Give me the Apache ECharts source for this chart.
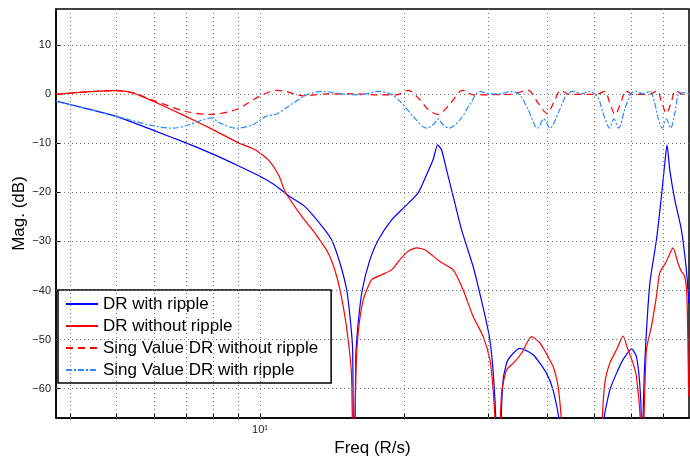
<!DOCTYPE html>
<html>
<head>
<meta charset="utf-8">
<script src="https://cdn.jsdelivr.net/npm/echarts@6/dist/echarts.min.js"></script>
<style>
html, body { margin: 0; padding: 0; background: #fff; }
#main { width: 690px; height: 461px; }
</style>
</head>
<body>
<div id="main"></div>
<script>
// grid positions (MATLAB style log grid)
var freqTicks = [4, 5, 6, 7, 8, 9, 10, 20, 30, 40, 50, 60, 70];
var magTicks = [-60, -50, -40, -30, -20, -10, 0, 10];

var legendNames = ['DR with ripple', 'DR without ripple', 'Sing Value DR without ripple', 'Sing Value DR with ripple'];

// DR with ripple
var drRipFreq = [3.74, 4.33, 5.0, 6.0, 7.0, 7.97, 9.02, 10.0, 10.66, 11.28, 11.65, 12.42, 13.46, 14.13, 14.70, 15.19, 15.48, 15.63, 15.73, 15.87, 16.05, 16.37, 16.99, 17.68, 18.86, 20.10, 21.44, 22.32, 23.04, 23.54, 23.99, 24.58, 25.38, 26.42, 27.94, 28.40, 29.57, 30.29, 30.86, 31.27, 31.55, 31.89, 32.28, 33.07, 34.99, 37.31, 39.80, 41.08, 42.29, 42.6, 52.0, 52.45, 54.0, 55.76, 57.55, 60.0, 61.39, 62.37, 62.89, 63.1, 63.39, 63.91, 65.5, 67.61, 69.25, 70.4, 71.15, 72.1, 73.86, 76.24, 78.10, 79.08];
var drRipMag = [-1.4, -2.9, -4.5, -7.4, -9.9, -12.2, -14.6, -16.7, -18.3, -20.1, -21.1, -22.9, -26.8, -29.7, -34.4, -39.9, -46.7, -52.1, -85, -53.5, -46.7, -39.9, -33.7, -29.7, -25.6, -22.9, -20.1, -16.4, -13.3, -10.3, -11.3, -15.4, -20.8, -27.6, -35.1, -37.8, -45.0, -50.1, -58.2, -70, -90, -70, -58.2, -54.1, -51.8, -53.1, -56.9, -60.3, -66.5, -80, -80, -66.5, -60.3, -56.9, -54.1, -51.9, -53.5, -58.9, -66.5, -85, -66.5, -54.8, -38.5, -29.7, -20.8, -14.0, -10.3, -15.4, -21.5, -27.6, -35.8, -42.6];

// DR without ripple
var drFreq = [3.74, 4.33, 5.0, 5.42, 5.97, 7.0, 7.97, 9.02, 9.81, 10.46, 10.97, 11.28, 12.23, 13.03, 13.90, 14.47, 14.94, 15.30, 15.55, 15.70, 15.87, 16.05, 16.45, 17.13, 17.97, 18.86, 19.63, 20.43, 21.28, 22.14, 23.80, 25.38, 26.63, 27.94, 29.33, 30.29, 30.77, 31.16, 31.45, 31.78, 32.05, 32.82, 34.16, 35.27, 37.02, 38.54, 41.08, 42.09, 42.98, 43.3, 51.5, 51.86, 52.71, 54.0, 55.76, 57.55, 58.95, 60.39, 61.39, 62.68, 63.0, 63.6, 64.42, 66.0, 67.61, 68.70, 70.9, 73.25, 75.0, 76.24, 77.46, 78.32, 78.97];
var drMag = [0.0, 0.5, 0.75, 0.3, -1.4, -4.5, -7.2, -9.9, -11.4, -13.6, -16.7, -19.8, -24.9, -28.3, -32.4, -37.1, -43.3, -50.1, -57.5, -85, -57.5, -48.7, -41.9, -37.8, -36.8, -35.8, -33.7, -32.0, -31.3, -31.7, -34.1, -35.8, -39.9, -45.3, -49.4, -54.1, -60.3, -70, -90, -70, -60.9, -56.2, -54.5, -52.8, -49.4, -50.7, -55.5, -59.6, -70, -85, -85, -70, -58.9, -54.8, -52.1, -49.3, -52.1, -54.8, -57.5, -68, -85, -68, -52.1, -47.3, -41.2, -36.4, -34.1, -31.3, -34.4, -36.1, -37.1, -41.2, -61.6];

// Sing Value DR without ripple
var svFreq = [3.74, 4.33, 5.0, 5.42, 5.97, 7.0, 7.84, 8.91, 9.97, 10.80, 11.33, 12.32, 13.79, 15.67, 17.82, 19.32, 20.43, 21.61, 22.49, 23.60, 24.77, 26.21, 26.63, 27.94, 33.35, 36.42, 38.21, 39.91, 41.43, 42.57, 44.53, 50.63, 52.71, 54.0, 55.38, 57.11, 58.30, 60.39, 65.5, 67.80, 69.25, 70.94, 72.70, 74.10, 76.84, 79.08];
var svMag = [0.0, 0.5, 0.75, 0.3, -1.2, -3.5, -4.1, -3.1, -0.4, 0.8, 0.6, -0.3, 0.1, 0.1, -0.1, -0.1, 0.8, -1.1, -3.1, -4.1, -2.4, 0.6, 0.8, -0.1, 0.0, 0.8, -1.8, -3.9, -1.1, 0.75, 0.0, 0.0, 0.6, -1.8, -4.1, -1.4, 0.75, 0.0, 0.0, 0.75, -1.4, -3.9, -1.4, 0.75, 0.0, 0.3];

// Sing Value DR with ripple
var svRipFreq = [3.74, 4.33, 5.0, 5.42, 5.97, 6.57, 7.11, 7.59, 7.90, 8.22, 8.91, 9.65, 10.29, 10.84, 11.33, 11.74, 12.52, 13.56, 14.70, 16.19, 17.68, 18.71, 19.63, 20.93, 22.32, 23.04, 23.60, 24.18, 24.89, 26.21, 27.50, 28.86, 30.29, 31.78, 33.62, 34.99, 36.42, 38.11, 39.28, 40.44, 42.43, 43.82, 45.23, 47.10, 49.03, 51.02, 52.27, 54.0, 55.04, 56.36, 58.02, 59.93, 61.39, 63.39, 65.5, 67.06, 68.13, 69.59, 70.94, 72.44, 73.86, 75.6, 77.46, 79.08];
var svRipMag = [-1.4, -2.9, -4.5, -5.4, -6.4, -6.9, -6.2, -5.2, -4.8, -5.8, -6.9, -6.2, -4.5, -4.0, -2.8, -1.8, -0.1, 0.6, 0.1, -0.1, 0.6, 0.1, -1.4, -4.5, -6.9, -6.2, -5.0, -6.2, -6.9, -5.2, -2.1, 0.6, 0.1, 0.1, 0.6, -0.1, -3.1, -6.9, -5.0, -6.9, -3.1, -0.1, 0.6, 0.1, 0.6, -0.7, -3.8, -6.9, -5.0, -6.9, -3.1, 0.3, 0.6, 0.1, 0.6, -1.8, -4.8, -6.9, -5.0, -6.9, -3.8, 0.3, 0.3, 0.1];

function zip(a, b) {
	var out = [];
	for (var i = 0; i < a.length; i++) {
		out.push([a[i], b[i]]);
	}
	return out;
}

var gridLines = [];
for (var i = 0; i < freqTicks.length; i++) gridLines.push({ xAxis: freqTicks[i] });
for (var j = 0; j < magTicks.length; j++) gridLines.push({ yAxis: magTicks[j] });

var font = '"Liberation Sans", Arial, Helvetica, sans-serif';

var chart = echarts.init(document.getElementById('main'));
var option = {
	animation: false,
	grid: {
		left: 56,
		right: 1,
		top: 9,
		bottom: 43,
		containLabel: false,
		outerBoundsMode: 'none',
		show: true,
		borderColor: '#000',
		borderWidth: 1.5,
		backgroundColor: '#fff'
	},
	legend: {
		data: legendNames,
		orient: 'vertical',
		left: 58,
		top: 290,
		itemWidth: 32,
		itemHeight: 14,
		itemGap: 4,
		padding: [5, 13, 4, 7],
		backgroundColor: '#fff',
		borderColor: '#000',
		borderWidth: 1.5,
		borderRadius: 0,
		itemStyle: { opacity: 0 },
		textStyle: {
			fontFamily: font,
			fontSize: 17,
			lineHeight: 18,
			color: '#000'
		}
	},
	xAxis: {
		type: 'log',
		logBase: 10,
		min: 3.74,
		max: 79.1,
		name: 'Freq (R/s)',
		nameLocation: 'middle',
		nameGap: 22,
		nameMoveOverlap: false,
		nameTextStyle: { fontFamily: font, fontSize: 17, color: '#000' },
		axisLine: { show: true, onZero: false, lineStyle: { color: '#000', width: 1.5 } },
		axisTick: { show: true, inside: true, length: 4, customValues: freqTicks, lineStyle: { color: '#000' } },
		splitLine: { show: false },
		axisLabel: {
			margin: 6,
			fontFamily: font,
			fontSize: 11,
			color: '#222',
			customValues: [10],
			formatter: function(v) {
				return Math.abs(v - 10) < 1e-6 ? '10\u00b9' : '';
			}
		}
	},
	yAxis: {
		type: 'value',
		min: -66,
		max: 17.4,
		name: 'Mag. (dB)',
		nameLocation: 'middle',
		nameGap: 28,
		nameMoveOverlap: false,
		nameTextStyle: { fontFamily: font, fontSize: 17, color: '#000' },
		axisLine: { show: true, onZero: false, lineStyle: { color: '#000', width: 1.5 } },
		axisTick: { show: true, inside: true, length: 5, customValues: magTicks, lineStyle: { color: '#000' } },
		splitLine: { show: false },
		axisLabel: {
			margin: 5,
			fontFamily: font,
			fontSize: 11,
			color: '#222',
			customValues: magTicks,
			formatter: function(v) {
				return String(v).replace('-', '\u2212');
			}
		}
	},
	series: [{
		name: legendNames[0],
		type: 'line',
		data: zip(drRipFreq, drRipMag),
		symbol: 'none',
		smooth: 0.2,
		lineStyle: { color: '#0000ff', width: 1.2 },
		itemStyle: { color: '#0000ff' },
		markLine: {
			silent: true,
			symbol: 'none',
			label: { show: false },
			animation: false,
			lineStyle: { color: '#777', type: [1, 3], width: 1 },
			data: gridLines
		},
		z: 3
	}, {
		name: legendNames[1],
		type: 'line',
		data: zip(drFreq, drMag),
		symbol: 'none',
		smooth: 0.2,
		lineStyle: { color: '#ff0000', width: 1.2 },
		itemStyle: { color: '#ff0000' },
		z: 4
	}, {
		name: legendNames[2],
		type: 'line',
		data: zip(svFreq, svMag),
		symbol: 'none',
		smooth: 0.3,
		lineStyle: { color: '#ff0000', width: 1.2, type: [7, 5] },
		itemStyle: { color: '#ff0000' },
		z: 5
	}, {
		name: legendNames[3],
		type: 'line',
		data: zip(svRipFreq, svRipMag),
		symbol: 'none',
		smooth: 0.3,
		lineStyle: { color: '#2a8cff', width: 1.2, type: [6, 2, 2, 2] },
		itemStyle: { color: '#2a8cff' },
		z: 6
	}]
};
chart.setOption(option);
</script>
</body>
</html>
